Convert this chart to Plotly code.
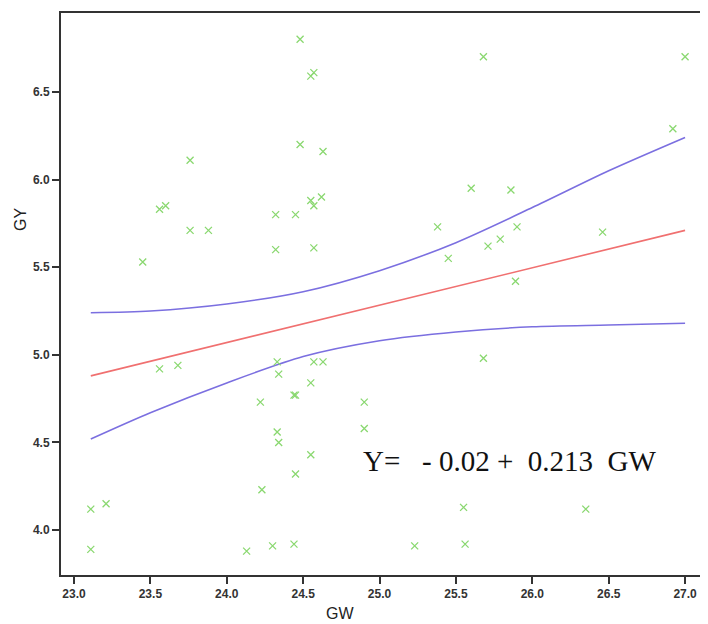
import plotly.graph_objects as go

# Observed data (GW vs GY)
gw = [24.48, 24.55, 24.57, 27.00, 25.68, 24.48, 24.63, 23.76, 26.92, 23.56,
      23.60, 24.32, 24.45, 24.55, 24.57, 24.62, 23.76, 23.88, 24.32, 24.57,
      23.45, 25.60, 25.86, 25.38, 25.90, 26.46, 25.79, 25.71, 25.45, 25.89,
      25.68, 24.90, 24.90, 25.55, 26.35, 25.23, 25.56, 23.56, 23.68, 24.33,
      24.34, 24.57, 24.63, 24.55, 24.22, 24.44, 24.45, 24.33, 24.34, 24.55,
      24.45, 24.23, 23.11, 23.21, 23.11, 24.13, 24.30, 24.44]
gy = [6.80, 6.59, 6.61, 6.70, 6.70, 6.20, 6.16, 6.11, 6.29, 5.83,
      5.85, 5.80, 5.80, 5.88, 5.85, 5.90, 5.71, 5.71, 5.60, 5.61,
      5.53, 5.95, 5.94, 5.73, 5.73, 5.70, 5.66, 5.62, 5.55, 5.42,
      4.98, 4.73, 4.58, 4.13, 4.12, 3.91, 3.92, 4.92, 4.94, 4.96,
      4.89, 4.96, 4.96, 4.84, 4.73, 4.77, 4.77, 4.56, 4.50, 4.43,
      4.32, 4.23, 4.12, 4.15, 3.89, 3.88, 3.91, 3.92]

# Fitted line endpoints and confidence band values
fit_x = [23.11, 27.00]
fit_y = [4.88, 5.71]
band_x = [23.11, 23.5, 24.0, 24.5, 25.0, 25.5, 26.0, 26.5, 27.00]
upper_y = [5.24, 5.25, 5.29, 5.36, 5.48, 5.64, 5.84, 6.05, 6.24]
lower_y = [4.52, 4.67, 4.84, 4.99, 5.08, 5.13, 5.16, 5.17, 5.18]

x_ticks = [23.0, 23.5, 24.0, 24.5, 25.0, 25.5, 26.0, 26.5, 27.0]
y_ticks = [4.0, 4.5, 5.0, 5.5, 6.0, 6.5]

# page body adds an 8px offset; figure is sized so the plot lands where the reference has it
OFF = 8
W, H = 708 - OFF, 624 - OFF
pl, pr, pt, pb = 61 - OFF, 0, 13 - OFF, 49
pw, ph = W - pl - pr, H - pt - pb


def px_to_paper(xp, yp):
    """window pixel position -> paper coords"""
    return (xp - OFF - pl) / pw, (H - pb - (yp - OFF)) / ph


fig = go.Figure()
fig.add_trace(go.Scatter(x=band_x, y=upper_y, mode="lines",
                         line=dict(color="#7b6fe0", width=1.6, shape="spline", smoothing=0.8),
                         hoverinfo="skip"))
fig.add_trace(go.Scatter(x=band_x, y=lower_y, mode="lines",
                         line=dict(color="#7b6fe0", width=1.6, shape="spline", smoothing=0.8),
                         hoverinfo="skip"))
fig.add_trace(go.Scatter(x=fit_x, y=fit_y, mode="lines",
                         line=dict(color="#f07070", width=1.6)))
fig.add_trace(go.Scatter(x=gw, y=gy, mode="markers",
                         marker=dict(symbol="x-thin", size=7,
                                     line=dict(color="#8ad870", width=1.3),
                                     color="#8ad870")))

ex, ey = px_to_paper(361, 461)
fig.add_annotation(x=ex, y=ey, xref="paper", yref="paper",
                   text="Y=&nbsp;&nbsp; - 0.02 +&nbsp; 0.213&nbsp; GW",
                   showarrow=False, xanchor="left", yanchor="middle",
                   font=dict(family="Liberation Serif, Times New Roman, serif",
                             size=29, color="#111"))

title_font = dict(family="Liberation Sans, Arial, sans-serif", size=16, color="#222")
gx, gyy = px_to_paper(20, 220)
fig.add_annotation(x=gx, y=gyy, xref="paper", yref="paper", text="GY",
                   showarrow=False, textangle=-90, font=title_font,
                   xanchor="center", yanchor="middle")
wx, wy = px_to_paper(340, 613)
fig.add_annotation(x=wx, y=wy, xref="paper", yref="paper", text="GW",
                   showarrow=False, font=title_font,
                   xanchor="center", yanchor="middle")

tick_font = dict(family="Liberation Sans, Arial, sans-serif", size=12,
                 color="#333", weight="bold")
fig.update_layout(
    width=W, height=H,
    margin=dict(l=pl, r=pr, t=pt, b=pb, autoexpand=False),
    paper_bgcolor="white", plot_bgcolor="white",
    showlegend=False,
    xaxis=dict(range=[22.915, 27.15], tickvals=x_ticks,
               ticktext=[f"{v:.1f}" for v in x_ticks],
               showgrid=False, zeroline=False, automargin=False,
               showline=True, linecolor="#333", linewidth=2, mirror=True,
               ticks="outside", ticklen=7, tickwidth=2, tickcolor="#333",
               tickfont=tick_font),
    yaxis=dict(range=[3.744, 6.95], tickvals=y_ticks,
               ticktext=[f"{v:.1f}" for v in y_ticks],
               showgrid=False, zeroline=False, automargin=False,
               showline=True, linecolor="#333", linewidth=2, mirror=False,
               ticks="outside", ticklen=7, tickwidth=2, tickcolor="#333",
               tickfont=tick_font),
)

fig.write_html("out.html")
